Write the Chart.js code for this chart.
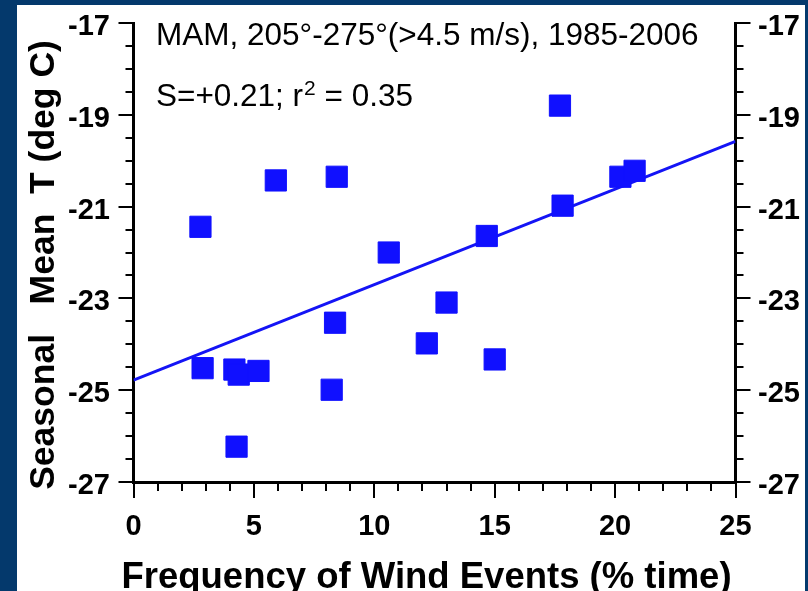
<!DOCTYPE html>
<html><head><meta charset="utf-8">
<script src="https://cdn.jsdelivr.net/npm/chart.js@4.4.1/dist/chart.umd.min.js"></script>
<style>html,body{margin:0;padding:0;background:#04396c;overflow:hidden;} canvas{display:block;}</style>
</head><body>
<canvas id="c" width="808" height="591"></canvas>
<script>
// ---- data ----
const windFreq  = [2.78, 2.87, 4.19, 4.37, 5.19, 4.28, 5.91, 8.44, 8.37, 8.23, 10.60, 12.18, 13.00, 14.67, 15.00, 17.71, 17.82, 20.22, 20.81];
const seasonalT = [-21.44, -24.52, -24.55, -24.66, -24.58, -26.23, -20.43, -20.35, -23.53, -24.99, -22.00, -23.98, -23.09, -21.64, -24.33, -18.80, -20.98, -20.35, -20.22];
const fitX = [0, 25];
const fitT = [-24.78, -19.58];
const xTicks = [0, 5, 10, 15, 20, 25];
const yTicks = [-27, -25, -23, -21, -19, -17];
const xMinorStep = 1;
const yMinorStep = 0.5;
const annotationLine1 = 'MAM, 205°-275°(>4.5 m/s), 1985-2006';
const annotationLine2 = ['S=+0.21; r', '2', ' = 0.35'];
const xTitle = 'Frequency of Wind Events (% time)';
const yTitle = 'Seasonal   Mean  T (deg C)';

const FONT = "'Liberation Sans', Arial, Helvetica, sans-serif";

const decor = {
  id: 'decor',
  beforeDraw(chart) {
    const ctx = chart.ctx;
    ctx.save();
    ctx.fillStyle = '#04396c';
    ctx.fillRect(0, 0, chart.width, chart.height);
    ctx.fillStyle = '#ffffff';
    ctx.fillRect(17, 5, 788, 586);
    ctx.restore();
  },
  afterDraw(chart) {
    const ctx = chart.ctx;
    const xs = chart.scales.x, yl = chart.scales.y;
    const a = chart.chartArea;
    ctx.save();
    // tick marks (major + minor)
    ctx.strokeStyle = '#000';
    ctx.lineWidth = 2;
    ctx.beginPath();
    for (let i = 0; xs.min + i * xMinorStep <= xs.max + 1e-9; i++) {
      const v = xs.min + i * xMinorStep;
      const px = Math.round(xs.getPixelForValue(v));
      const major = xTicks.some(t => Math.abs(t - v) < 1e-6);
      ctx.moveTo(px, a.bottom);
      ctx.lineTo(px, a.bottom + (major ? 16 : 9));
    }
    for (let i = 0; yl.min + i * yMinorStep <= yl.max + 1e-9; i++) {
      const v = yl.min + i * yMinorStep;
      const py = Math.round(yl.getPixelForValue(v));
      const major = yTicks.some(t => Math.abs(t - v) < 1e-6);
      const len = major ? 15 : 8;
      ctx.moveTo(a.left, py); ctx.lineTo(a.left - len, py);
      ctx.moveTo(a.right, py); ctx.lineTo(a.right + len, py);
    }
    ctx.stroke();

    // annotation text
    ctx.fillStyle = '#000';
    ctx.textAlign = 'left';
    ctx.textBaseline = 'alphabetic';
    ctx.font = '31.5px ' + FONT;
    ctx.fillText(annotationLine1, 156, 45);
    let x = 156;
    const base2 = 105.5;
    ctx.fillText(annotationLine2[0], x, base2);
    x += ctx.measureText(annotationLine2[0]).width;
    ctx.font = '21px ' + FONT;
    ctx.fillText(annotationLine2[1], x + 1, base2 - 10.5);
    x += ctx.measureText(annotationLine2[1]).width + 1;
    ctx.font = '31.5px ' + FONT;
    ctx.fillText(annotationLine2[2], x, base2);

    // axis titles
    ctx.font = 'bold 36.5px ' + FONT;
    ctx.textAlign = 'center';
    ctx.fillText(xTitle, 426.5, 588);

    ctx.translate(54, 265);
    ctx.rotate(-Math.PI / 2);
    ctx.font = 'bold 35.5px ' + FONT;
    ctx.textAlign = 'center';
    ctx.fillText(yTitle, 0, 0);
    ctx.restore();
  }
};

const tickFont = { family: FONT, size: 29, weight: 'bold' };
const noPad = s => { s.paddingTop = 0; s.paddingBottom = 0; s.paddingLeft = 0; s.paddingRight = 0; };

new Chart(document.getElementById('c'), {
  type: 'scatter',
  data: {
    datasets: [
      {
        label: 'MAM',
        data: windFreq.map((x, i) => ({ x: x, y: seasonalT[i] })),
        pointStyle: 'rect',
        pointRadius: 15,
        pointHoverRadius: 15,
        backgroundColor: '#1010ff',
        borderColor: '#1010ff',
        borderWidth: 1,
        showLine: false
      },
      {
        label: 'fit',
        data: fitX.map((x, i) => ({ x: x, y: fitT[i] })),
        showLine: true,
        borderColor: '#1414f5',
        borderWidth: 3,
        pointRadius: 0,
        pointHoverRadius: 0,
        fill: false,
        tension: 0
      }
    ]
  },
  options: {
    responsive: false,
    animation: false,
    devicePixelRatio: 1,
    layout: { padding: { top: 23, left: 0, right: 0, bottom: 0 } },
    plugins: { legend: { display: false }, tooltip: { enabled: false } },
    scales: {
      x: {
        type: 'linear', position: 'bottom', min: 0, max: 25,
        afterBuildTicks: s => { s.ticks = xTicks.map(v => ({ value: v })); },
        afterFit: s => { s.height = 109; noPad(s); },
        grid: { display: false, drawTicks: false },
        border: { display: true, color: '#000', width: 3 },
        ticks: { font: tickFont, color: '#000', padding: 27.5, maxRotation: 0, autoSkip: false }
      },
      y: {
        type: 'linear', position: 'left', min: -27, max: -17,
        afterBuildTicks: s => { s.ticks = yTicks.map(v => ({ value: v })); },
        afterFit: s => { s.width = 133.5; noPad(s); },
        grid: { display: false, drawTicks: false },
        border: { display: true, color: '#000', width: 3 },
        ticks: { font: tickFont, color: '#000', padding: 23.5, labelOffset: 4, autoSkip: false }
      },
      y2: {
        type: 'linear', position: 'right', min: -27, max: -17,
        afterBuildTicks: s => { s.ticks = yTicks.map(v => ({ value: v })); },
        afterFit: s => { s.width = 72.5; noPad(s); },
        grid: { display: false, drawTicks: false },
        border: { display: true, color: '#000', width: 3 },
        ticks: { font: tickFont, color: '#000', padding: 22.5, labelOffset: 4, autoSkip: false }
      }
    }
  },
  plugins: [decor]
});
</script>
</body></html>
